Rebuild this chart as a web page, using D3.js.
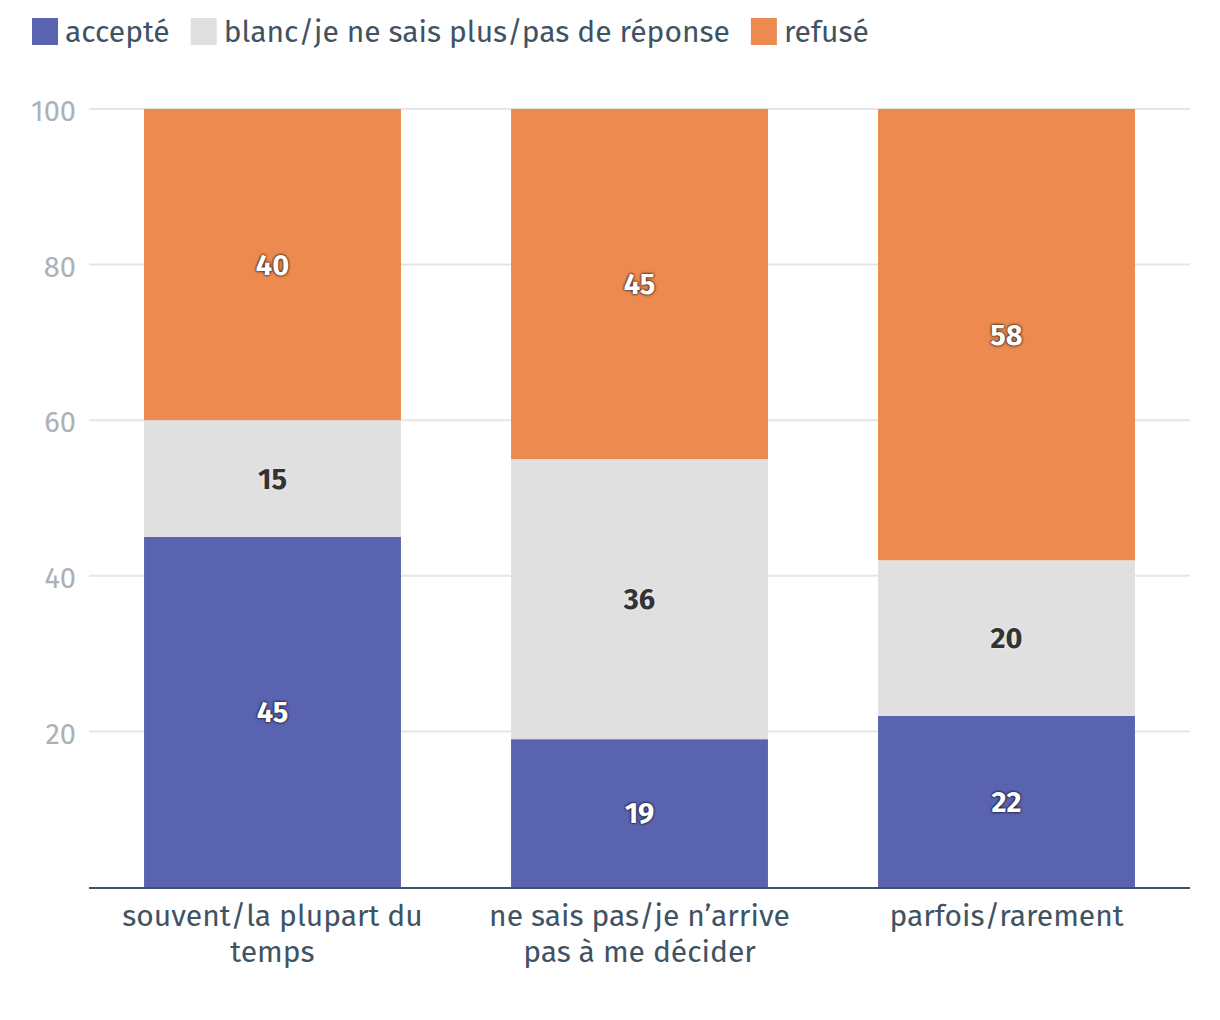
<!DOCTYPE html>
<html>
<head>
<meta charset="utf-8">
<script src="https://cdn.jsdelivr.net/npm/d3@7"></script>
<style>
  body { margin: 0; background: #fff; }
  text { font-family: "Fira Sans", Roboto, "Noto Sans", sans-serif; }
</style>
</head>
<body>
<script>
// data
const categories = ["souvent/la plupart du\ntemps", "ne sais pas/je n’arrive\npas à me décider", "parfois/rarement"];
const seriesNames = ["accepté", "blanc/je ne sais plus/pas de réponse", "refusé"];
const accepte = [45, 19, 22];
const blanc = [15, 36, 20];
const refuse = [40, 45, 58];
const yTicks = [20, 40, 60, 80, 100];
const colors = ["#5963b0", "#e0e0e0", "#ec8a4f"];

const W = 1220, H = 1020;
const margin = { left: 89, right: 30, top: 109, bottom: 133 };

const svg = d3.select("body").append("svg")
  .attr("width", W)
  .attr("height", H)
  .attr("viewBox", `0 0 ${W} ${H}`);

const x = d3.scaleBand()
  .domain(categories)
  .range([margin.left, W - margin.right])
  .paddingInner(0.3)
  .paddingOuter(0.15);

const y = d3.scaleLinear()
  .domain([0, 100])
  .range([H - margin.bottom, margin.top]);

// gridlines
svg.append("g")
  .selectAll("line")
  .data(yTicks)
  .join("line")
  .attr("x1", margin.left)
  .attr("x2", W - margin.right)
  .attr("y1", d => y(d))
  .attr("y2", d => y(d))
  .attr("stroke", "#e6e6e6")
  .attr("stroke-width", 2);

// y tick labels
svg.append("g")
  .selectAll("text")
  .data(yTicks)
  .join("text")
  .attr("x", 76)
  .attr("y", d => y(d) + 2)
  .attr("dy", "0.35em")
  .attr("text-anchor", "end")
  .attr("font-size", 29)
  .attr("fill", "#adb1b6")
  .text(d => d);

// stacked data
const rows = categories.map((c, i) => ({ cat: c, "accepté": accepte[i], "blanc/je ne sais plus/pas de réponse": blanc[i], "refusé": refuse[i] }));
const stacked = d3.stack().keys(seriesNames)(rows);

const layers = svg.append("g")
  .selectAll("g")
  .data(stacked)
  .join("g")
  .attr("fill", (d, i) => colors[i]);

layers.selectAll("rect")
  .data(d => d)
  .join("rect")
  .attr("x", d => x(d.data.cat))
  .attr("width", x.bandwidth())
  .attr("y", d => y(d[1]))
  .attr("height", d => y(d[0]) - y(d[1]));

// value labels
stacked.forEach((layer, li) => {
  svg.append("g")
    .selectAll("text")
    .data(layer)
    .join("text")
    .attr("x", d => x(d.data.cat) + x.bandwidth() / 2)
    .attr("y", d => y((d[0] + d[1]) / 2))
    .attr("dy", "0.35em")
    .attr("text-anchor", "middle")
    .attr("font-size", 29)
    .attr("font-weight", "bold")
    .attr("fill", li === 1 ? "#333333" : "#ffffff")
    .style("text-shadow", li === 1 ? "0 0 3px rgba(255,255,255,0.7)" : "0 0 3px rgba(0,0,0,0.9), 0 0 2px rgba(0,0,0,0.6)")
    .text(d => d[1] - d[0]);
});

// x axis line
svg.append("line")
  .attr("x1", margin.left)
  .attr("x2", W - margin.right)
  .attr("y1", y(0) + 1)
  .attr("y2", y(0) + 1)
  .attr("stroke", "#3f5364")
  .attr("stroke-width", 2);

// category labels
svg.append("g")
  .selectAll("text")
  .data(categories)
  .join("text")
  .attr("x", d => x(d) + x.bandwidth() / 2)
  .attr("y", 926)
  .attr("text-anchor", "middle")
  .attr("font-size", 30)
  .attr("fill", "#3f5364")
  .each(function (d) {
    const t = d3.select(this);
    d.split("\n").forEach((line, j) => {
      t.append("tspan")
        .attr("x", x(d) + x.bandwidth() / 2)
        .attr("dy", j === 0 ? 0 : 36)
        .text(line);
    });
  });

// legend
const legend = svg.append("g");
let lx = 32;
seriesNames.forEach((name, i) => {
  legend.append("rect")
    .attr("x", lx)
    .attr("y", 18)
    .attr("width", 26)
    .attr("height", 27)
    .attr("fill", colors[i]);
  const t = legend.append("text")
    .attr("x", lx + 33)
    .attr("y", 42)
    .attr("font-size", 30)
    .attr("fill", "#3f5364")
    .text(name);
  lx += 33 + t.node().getComputedTextLength() + 21;
});
</script>
</body>
</html>
